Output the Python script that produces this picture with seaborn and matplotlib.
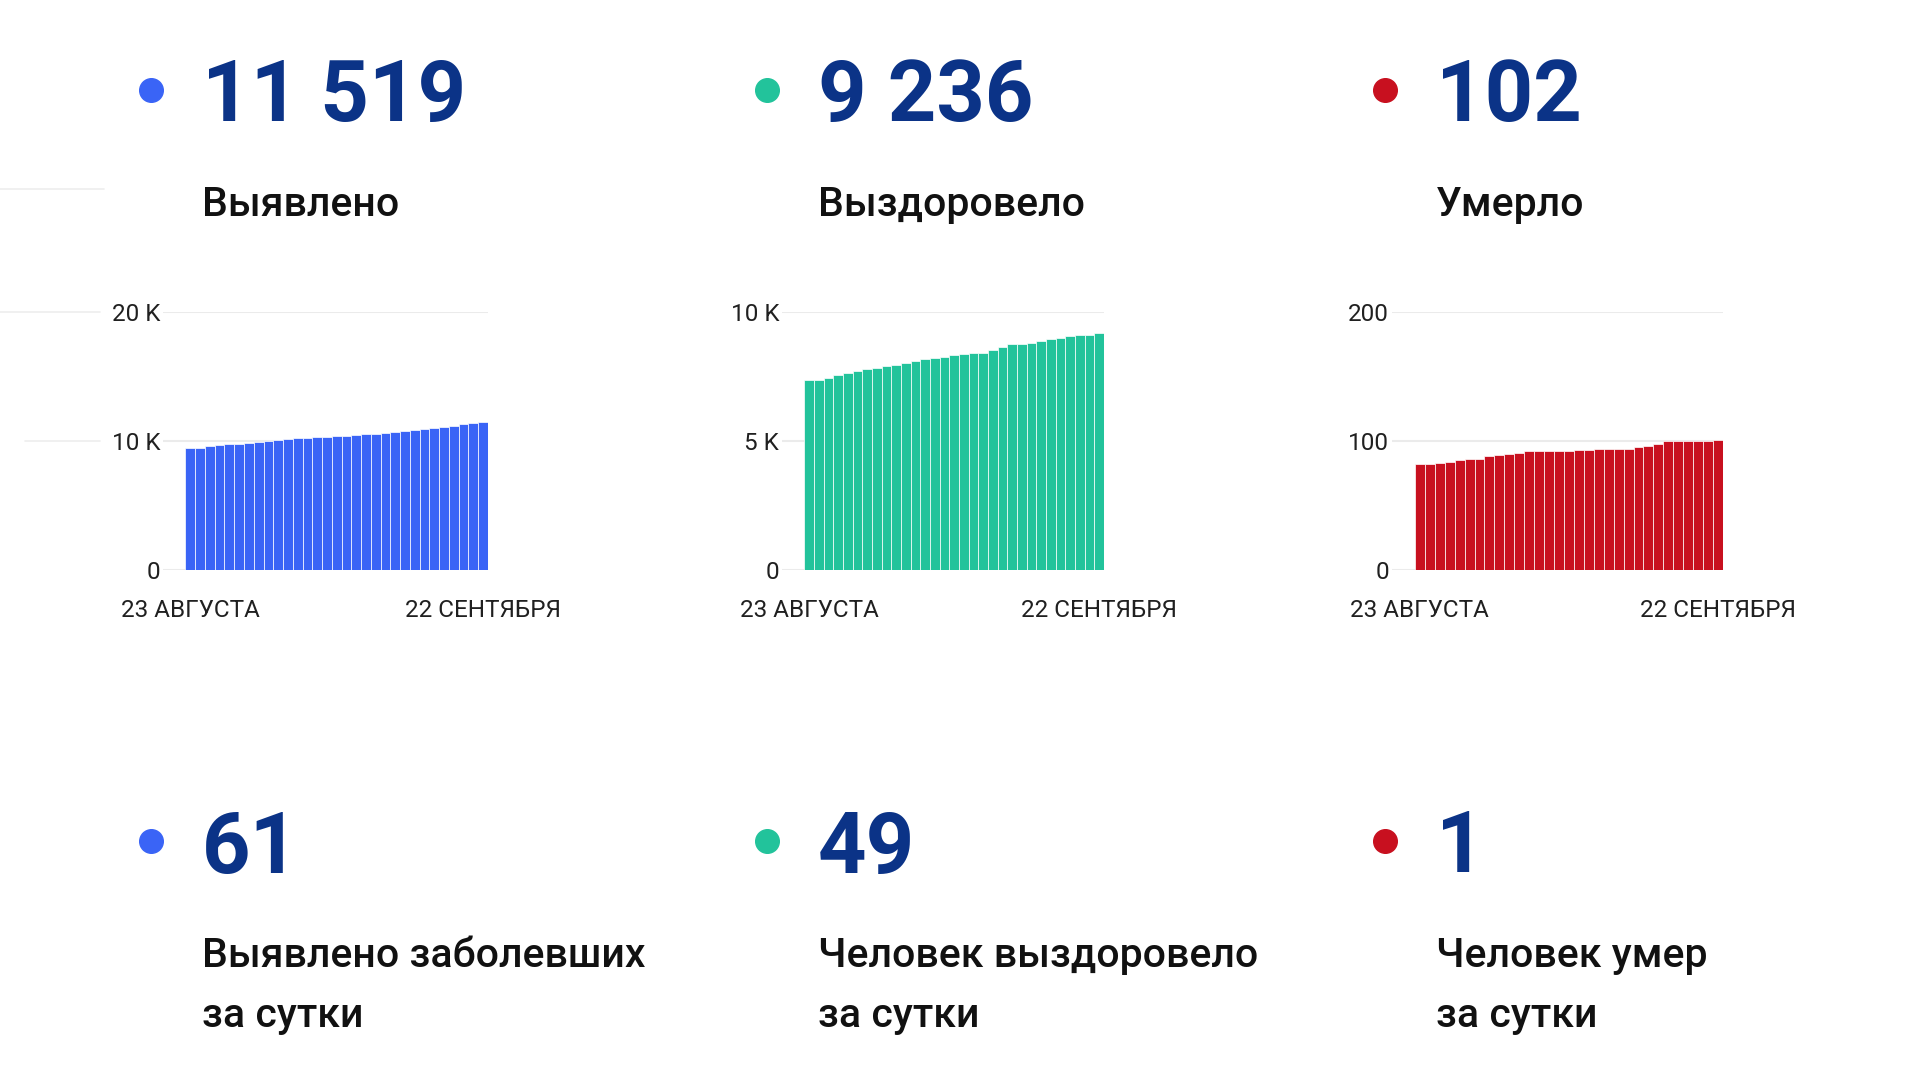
import matplotlib
matplotlib.use('Agg')
import matplotlib.pyplot as plt
import seaborn as sns
import pandas as pd
from matplotlib.lines import Line2D

# --- data (cumulative, 23 Aug .. 22 Sep) ---
days = list(range(31))
detected = [9419, 9471, 9600, 9703, 9755, 9806, 9858, 9935, 10013, 10065,
            10142, 10194, 10245, 10297, 10323, 10374, 10426, 10477, 10529, 10581,
            10658, 10735, 10813, 10865, 10942, 11019, 11097, 11200, 11290, 11390,
            11458]
recovered = [7355, 7381, 7458, 7548, 7639, 7716, 7781, 7845, 7897, 7948,
             8039, 8116, 8168, 8219, 8271, 8323, 8374, 8413, 8426, 8542,
             8645, 8748, 8774, 8800, 8877, 8955, 9006, 9071, 9097, 9123,
             9187]
died = [82, 82, 83, 84, 85, 86, 86, 88, 89, 90,
        91, 92, 92, 92, 92, 92, 93, 93, 94, 94,
        94, 94, 95, 96, 98, 100, 100, 100, 100, 100,
        101]

totals = ['11 519', '9 236', '102']
titles = ['Выявлено', 'Выздоровело', 'Умерло']
daily = ['61', '49', '1']
daily_titles = ['Выявлено заболевших\nза сутки', 'Человек выздоровело\nза сутки', 'Человек умер\nза сутки']
colors = ['#3a64f6', '#22c39b', '#c8101f']
y_ticks = [[0, 10000, 20000], [0, 5000, 10000], [0, 100, 200]]
y_ticklabels = [['0', '10 K', '20 K'], ['0', '5 K', '10 K'], ['0', '100', '200']]
x_ticklabels = ['23 АВГУСТА', '22 СЕНТЯБРЯ']

sns.set_theme(style='white')
plt.rcParams['font.family'] = ['Roboto', 'DejaVu Sans']

W, H = 1920, 1080
fig = plt.figure(figsize=(19.2, 10.8), dpi=100)
fig.patch.set_facecolor('white')

NAVY = '#0b3387'

# axes boxes in pixels: (left, right)
ax_x = [(163, 488), (782, 1104), (1392, 1723)]
ax_top, ax_bottom = 312, 570
text_x = [202, 818, 1436]
dot_x = [151, 767, 1385]

for i, series in enumerate([detected, recovered, died]):
    l, r = ax_x[i]
    ax = fig.add_axes([l / W, 1 - ax_bottom / H, (r - l) / W, (ax_bottom - ax_top) / H])
    df = pd.DataFrame({'day': days, 'value': series})
    sns.barplot(data=df, x='day', y='value', color=colors[i], width=1.0,
                edgecolor='white', linewidth=0.5, saturation=1, ax=ax)
    ax.set_xlim(-2.8, 30.5)
    ax.set_ylim(0, y_ticks[i][-1])
    ax.set_yticks(y_ticks[i])
    ax.set_yticklabels(y_ticklabels[i])
    ax.set_xticks([0, 30])
    ax.set_xticklabels(x_ticklabels)
    ax.set_xlabel('')
    ax.set_ylabel('')
    for s in ax.spines.values():
        s.set_visible(False)
    ax.yaxis.grid(True, color='#ebebeb', linewidth=1.5)
    ax.set_axisbelow(True)
    ax.tick_params(axis='y', length=0, pad=2, labelsize=17.5, labelcolor='#202020')
    ax.tick_params(axis='x', length=0, pad=21, labelsize=17.5, labelcolor='#202020')

    # header
    fig.text(text_x[i] / W, 1 - 97 / H, totals[i], fontsize=61, fontweight='bold',
             color=NAVY, va='center', ha='left')
    fig.text(text_x[i] / W, 1 - 205 / H, titles[i], fontsize=29.5, fontweight='medium',
             color='#111111', va='center', ha='left')
    fig.add_artist(Line2D([dot_x[i] / W], [1 - 90 / H], marker='o', markersize=17,
                          color=colors[i], linestyle='none'))

    # lower row
    fig.text(text_x[i] / W, 1 - 849 / H, daily[i], fontsize=61, fontweight='bold',
             color=NAVY, va='center', ha='left')
    fig.text(text_x[i] / W, 1 - 986 / H, daily_titles[i], fontsize=29.5, fontweight='medium',
             color='#111111', va='center', ha='left', linespacing=1.75)
    fig.add_artist(Line2D([dot_x[i] / W], [1 - 841 / H], marker='o', markersize=17,
                          color=colors[i], linestyle='none'))

# faint leftover lines at the left edge
for y0, x0, x1 in [(189, 0, 104), (312, 0, 100), (441, 25, 100)]:
    fig.add_artist(Line2D([x0 / W, x1 / W], [1 - y0 / H, 1 - y0 / H], color='#eeeeee', linewidth=1.2))

fig.savefig('out.png', dpi=100, facecolor='white')
